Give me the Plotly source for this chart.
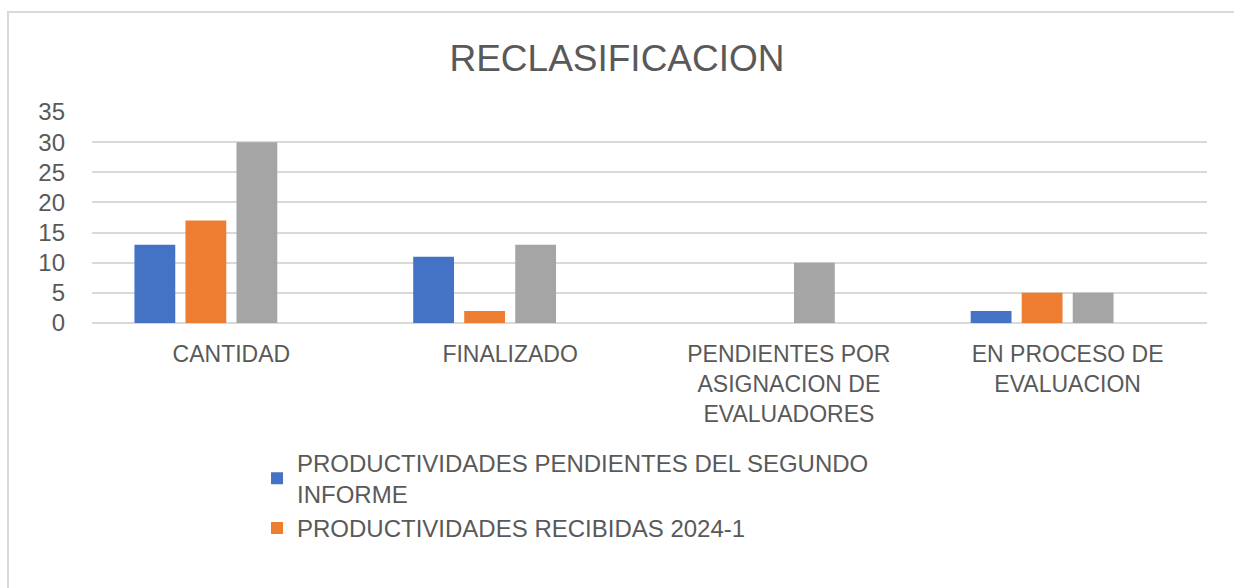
import plotly.graph_objects as go

categories = ["CANTIDAD", "FINALIZADO", "PENDIENTES POR<br>ASIGNACION DE<br>EVALUADORES", "EN PROCESO DE<br>EVALUACION"]
series_names = ["PRODUCTIVIDADES PENDIENTES DEL SEGUNDO<br>INFORME", "PRODUCTIVIDADES RECIBIDAS 2024-1", "SERIE 3", "SERIE 4"]
pendientes_segundo = [13, 11, None, 2]
recibidas_2024_1 = [17, 2, None, 5]
serie_3 = [30, 13, 10, 5]
serie_4 = [None, None, None, None]
y_ticks = [0, 5, 10, 15, 20, 25, 30, 35]

colors = ["#4472C4", "#ED7D31", "#A5A5A5", "#FFC000"]
values = [pendientes_segundo, recibidas_2024_1, serie_3, serie_4]
show = [True, True, False, False]

FONT = "Liberation Sans, Arial, sans-serif"
TXT = "#595959"

fig = go.Figure()
for name, vals, col, sl in zip(series_names, values, colors, show):
    fig.add_trace(go.Bar(x=categories, y=vals, name=name, marker_color=col,
                         marker_line_width=0, showlegend=sl))

fig.update_layout(
    width=1234, height=588,
    margin=dict(l=92, r=27, t=112, b=265, autoexpand=False),
    paper_bgcolor="white", plot_bgcolor="white",
    barmode="group", bargap=0.268, bargroupgap=0.2,
    title=dict(text="RECLASIFICACION", x=0.5, xanchor="center", y=0.902, yanchor="middle",
               font=dict(family=FONT, size=37, color=TXT)),
    font=dict(family=FONT, color=TXT),
    legend=dict(x=0.148, xanchor="left", y=-0.557, yanchor="top",
                font=dict(family=FONT, size=24, color=TXT),
                bgcolor="rgba(0,0,0,0)", tracegroupgap=8, itemwidth=30),
    xaxis=dict(showgrid=False, showline=False, ticks="", automargin=False,
               ticklabelstandoff=15,
               tickfont=dict(family=FONT, size=23, color=TXT)),
    yaxis=dict(range=[0, 35], tickvals=y_ticks, showgrid=True, gridcolor="#D9D9D9", gridwidth=2,
               zeroline=True, zerolinecolor="#D9D9D9", zerolinewidth=2, showline=False,
               ticks="", automargin=False, ticklabelstandoff=26,
               tickfont=dict(family=FONT, size=24, color=TXT)),
    shapes=[dict(type="rect", xref="paper", yref="paper",
                 x0=(8 - 92) / 1115, x1=(1240 - 92) / 1115,
                 y0=(323 - 600) / 211, y1=(323 - 12) / 211,
                 line=dict(color="#D9D9D9", width=2), fillcolor="rgba(0,0,0,0)", layer="below")],
)

fig.write_html("out.html", config={"displayModeBar": False},
               post_script="document.body.style.margin='0';document.body.style.overflow='hidden';")
